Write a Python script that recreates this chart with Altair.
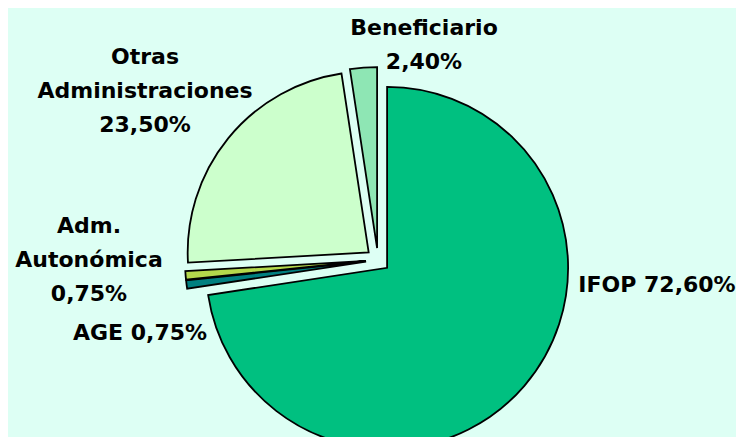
import altair as alt
import pandas as pd

# Data
labels = ["IFOP", "AGE", "Adm. Autonómica", "Otras Administraciones", "Beneficiario"]
values = [72.60, 0.75, 0.75, 23.50, 2.40]
label_texts = ["IFOP 72,60%", "AGE 0,75%", "Adm.\nAutonómica\n0,75%",
               "Otras\nAdministraciones\n23,50%", "Beneficiario\n2,40%"]
colors = ["#00C080", "#008080", "#B4D84C", "#CCFFCC", "#8EE6B4"]

# Layout / style
W, H = 728, 429
CX, CY = 370, 252       # pie centre in plot pixels
R = 181                 # pie radius
EXPLODE = 12            # explosion distance
label_x = [649, 132, 81, 137, 416]
label_y = [284, 332, 225, 56, 27]
BG = "#DDFFF4"
FONT = "DejaVu Sans"

df = pd.DataFrame({"label": labels, "value": values, "order": list(range(len(labels)))})
lab_df = pd.DataFrame({"text": label_texts, "lx": label_x, "ly": label_y})

pie = (
    alt.Chart(df)
    .transform_window(cum="sum(value)", sort=[alt.SortField("order")], frame=[None, 0])
    .transform_joinaggregate(total="sum(value)")
    .transform_calculate(
        t1="2*PI*(datum.cum - datum.value)/datum.total",
        t2="2*PI*datum.cum/datum.total",
    )
    .transform_calculate(mid="(datum.t1 + datum.t2)/2")
    .transform_calculate(
        cx=f"{CX} + {EXPLODE}*sin(datum.mid)",
        cy=f"{CY} - {EXPLODE}*cos(datum.mid)",
    )
    .mark_arc(radius=R, stroke="black", strokeWidth=1.8, strokeJoin="miter")
    .encode(
        x=alt.X("cx:Q", scale=None, axis=None),
        y=alt.Y("cy:Q", scale=None, axis=None),
        theta=alt.Theta("t1:Q", scale=None, stack=None),
        theta2="t2:Q",
        color=alt.Color("label:N", scale=alt.Scale(domain=labels, range=colors), legend=None),
    )
)

text = (
    alt.Chart(lab_df)
    .mark_text(font=FONT, fontSize=22, fontWeight="bold", color="black",
               align="center", baseline="alphabetic", lineBreak="\n", lineHeight=34)
    .encode(
        x=alt.X("lx:Q", scale=None, axis=None),
        y=alt.Y("ly:Q", scale=None, axis=None),
        text="text:N",
    )
)

chart = (
    alt.layer(pie, text)
    .properties(width=W, height=H, background=BG, padding=0,
                autosize=alt.AutoSizeParams(type="none"))
    .configure_view(stroke=None)
)

chart.save("out.html", embed_options={"renderer": "svg", "actions": False})
